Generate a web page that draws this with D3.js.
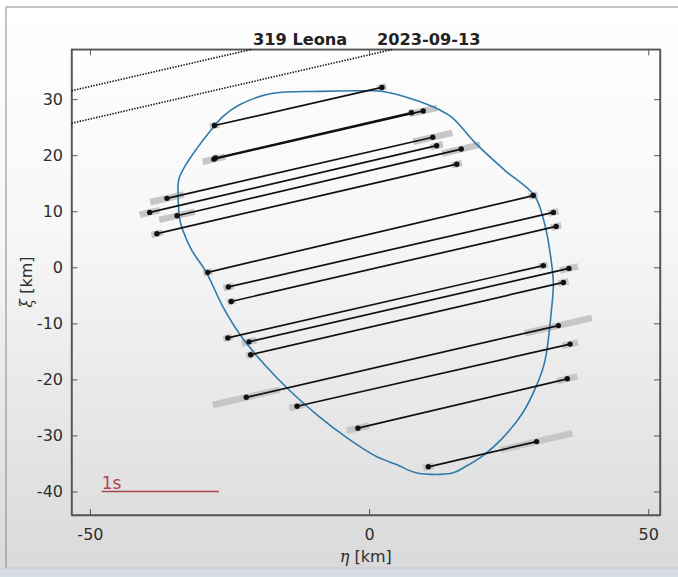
<!DOCTYPE html>
<html>
<head>
<meta charset="utf-8">
<script src="https://cdn.jsdelivr.net/npm/d3@7"></script>
<style>
  body { margin: 0; background: #fff; }
  svg { display: block; font-family: "DejaVu Sans", "Liberation Sans", Arial, sans-serif; }
</style>
</head>
<body>
<div id="occ-container"></div>
<script>
/**
 * DATA (km, fundamental plane)
 * */
const titleName = "319 Leona";
const titleDate = "2023-09-13";
const xTicks = [-50, 0, 50];
const yTicks = [-40, -30, -20, -10, 0, 10, 20, 30];

// positive chords: disappearance (1) -> reappearance (2)
const chordEta1 = [-27.7, -27.8, -27.5, -36.2, -39.3, -34.4, -38.0, -28.9, -25.2, -24.7, -25.3, -21.5, -21.2, -22.0, -12.9, -2.0, 10.6];
const chordXi1 = [25.3, 19.3, 19.5, 12.3, 9.8, 9.2, 6.0, -0.9, -3.5, -6.1, -12.6, -13.3, -15.6, -23.2, -24.8, -28.7, -35.6];
const chordEta2 = [2.3, 9.7, 7.6, 11.4, 12.1, 16.5, 15.7, 29.4, 33.0, 33.5, 31.2, 35.8, 34.8, 33.9, 36.0, 35.5, 30.0];
const chordXi2 = [32.1, 27.9, 27.6, 23.2, 21.7, 21.1, 18.4, 12.8, 9.8, 7.3, 0.3, -0.2, -2.7, -10.4, -13.7, -19.9, -31.1];
// timing uncertainty (along eta) at each end
const errStart = [0.8, 2.0, 0.5, 3.0, 1.8, 3.2, 1.0, 0.8, 0.9, 0.7, 0.8, 1.3, 0.8, 6.0, 1.4, 2.0, 0.9];
const errEnd = [0.8, 2.5, 0.5, 3.5, 1.1, 3.4, 0.9, 0.8, 0.9, 0.9, 0.8, 1.6, 0.9, 6.0, 1.4, 1.8, 6.4];

// negative chords (dotted)
const negEta1 = [-53.3, -53.3];
const negXi1 = [31.5, 25.7];
const negEta2 = [-21.0, 4.3];
const negXi2 = [38.9, 38.9];

// shape model outline
const contourEta = [-17.5, -8.9, -0.5, 2.2, 8.1, 12.6, 14.9, 19.0, 24.2, 29.6, 31.4, 32.6, 33.0, 32.6, 32.1, 31.4, 29.9, 27.5, 23.6, 20.4, 17.2, 14.9, 8.6, 4.9, 1.0, -4.0, -9.0, -14.0, -18.5, -22.9, -26.2, -29.2, -31.8, -33.4, -33.9, -34.2, -34.1, -33.0, -31.0, -28.3, -26.2, -23.2];
const contourXi = [31.0, 31.4, 31.5, 31.4, 29.9, 28.1, 26.7, 22.2, 17.4, 12.8, 7.9, 1.3, -3.0, -8.2, -12.9, -17.1, -21.3, -26.0, -30.8, -33.6, -35.6, -36.7, -36.7, -35.2, -33.6, -30.4, -26.6, -22.2, -17.6, -12.3, -7.0, -0.8, 3.1, 6.7, 8.5, 12.6, 15.6, 18.0, 21.0, 24.5, 26.9, 29.0];

// 1 second time scale
const scaleEta = [-47.9, -26.9];
const scaleXi = -40;
const scaleLabel = "1s";

const chords = chordEta1.map((d, i) => ({
  eta1: d,
  xi1: chordXi1[i],
  eta2: chordEta2[i],
  xi2: chordXi2[i],
  e1: errStart[i],
  e2: errEnd[i],
}));
const negChords = negEta1.map((d, i) => ({ eta1: d, xi1: negXi1[i], eta2: negEta2[i], xi2: negXi2[i] }));
const contour = contourEta.map((d, i) => [d, contourXi[i]]);

let width = 678,
  height = 577,
  margin = { top: 49.3, bottom: 62, left: 71.5, right: 18 };

// SCALES
const xScale = d3
  .scaleLinear()
  .domain([-53.3, 52.1])
  .range([margin.left, width - margin.right]);

const yScale = d3
  .scaleLinear()
  .domain([-44.2, 38.9])
  .range([height - margin.bottom, margin.top]);

const svg = d3
  .select("#occ-container")
  .append("svg")
  .attr("width", width)
  .attr("height", height);

// background: faded video-frame look
const grad = svg
  .append("defs")
  .append("linearGradient")
  .attr("id", "bg")
  .attr("x1", 0)
  .attr("y1", 0)
  .attr("x2", 0)
  .attr("y2", 1);
grad.append("stop").attr("offset", "0%").attr("stop-color", "#ffffff");
grad.append("stop").attr("offset", "40%").attr("stop-color", "#f7f7f7");
grad.append("stop").attr("offset", "100%").attr("stop-color", "#d9d9d9");

svg.append("rect").attr("width", width).attr("height", height).attr("fill", "url(#bg)");
svg.append("rect").attr("x", 0).attr("y", 568).attr("width", width).attr("height", 9).attr("fill", "#d6dde4");
svg
  .append("path")
  .attr("d", "M6,568V7H678")
  .attr("fill", "none")
  .attr("stroke", "#858585")
  .attr("stroke-width", 1);
svg.append("line").attr("x1", 0).attr("x2", width).attr("y1", 568).attr("y2", 568).attr("stroke", "#c4c9ce");

// AXES
const tickLen = 6;
const plainNum = (d) => String(d); // keep ascii hyphen like the original
svg
  .append("g")
  .attr("class", "axis x-axis")
  .attr("transform", `translate(0,${height - margin.bottom})`)
  .call(d3.axisBottom(xScale).tickValues(xTicks).tickFormat(plainNum).tickSizeInner(-tickLen).tickSizeOuter(0).tickPadding(13.6));
svg
  .append("g")
  .attr("class", "axis x-axis-top")
  .attr("transform", `translate(0,${margin.top})`)
  .call(d3.axisTop(xScale).tickValues(xTicks).tickSizeInner(-tickLen).tickSizeOuter(0).tickFormat(""));
svg
  .append("g")
  .attr("class", "axis y-axis")
  .attr("transform", `translate(${margin.left},0)`)
  .call(d3.axisLeft(yScale).tickValues(yTicks).tickFormat(plainNum).tickSizeInner(-tickLen).tickSizeOuter(0).tickPadding(8.5));
svg
  .append("g")
  .attr("class", "axis y-axis-right")
  .attr("transform", `translate(${width - margin.right},0)`)
  .call(d3.axisRight(yScale).tickValues(yTicks).tickSizeInner(-tickLen).tickSizeOuter(0).tickFormat(""));

svg.selectAll(".axis path").attr("stroke", "#555").attr("stroke-width", 1.4);
svg.selectAll(".axis line").attr("stroke", "#555").attr("stroke-width", 1);
svg.selectAll(".axis text").attr("font-size", 16).attr("fill", "#2e2e2e").attr("font-family", "DejaVu Sans");

// box edges (top/right)
svg
  .append("rect")
  .attr("x", margin.left)
  .attr("y", margin.top)
  .attr("width", width - margin.right - margin.left)
  .attr("height", height - margin.bottom - margin.top)
  .attr("fill", "none")
  .attr("stroke", "#555")
  .attr("stroke-width", 1.4);

// labels
const xl = svg
  .append("text")
  .attr("x", (margin.left + width - margin.right) / 2)
  .attr("y", 562)
  .attr("text-anchor", "middle")
  .attr("font-size", 16)
  .attr("fill", "#2e2e2e");
xl.append("tspan").attr("font-family", "DejaVu Serif").attr("font-style", "italic").text("η");
xl.append("tspan").text(" [km]");

const yl = svg
  .append("text")
  .attr("transform", `translate(32,${(margin.top + height - margin.bottom) / 2}) rotate(-90)`)
  .attr("text-anchor", "middle")
  .attr("font-size", 16)
  .attr("fill", "#2e2e2e");
yl.append("tspan").attr("font-family", "DejaVu Serif").attr("font-style", "italic").text("ξ");
yl.append("tspan").text(" [km]");

const tt = svg
  .append("text")
  .attr("y", 44.5)
  .attr("font-size", 16.2)
  .attr("font-weight", "bold")
  .attr("fill", "#222");
tt.append("tspan").attr("x", 253).text(titleName);
tt.append("tspan").attr("x", 377).text(titleDate);

// MARKS
const plot = svg.append("g");

// uncertainty bars
const slope = (d) => (d.xi2 - d.xi1) / (d.eta2 - d.eta1);
const errBars = [];
chords.forEach((d) => {
  errBars.push({ eta: d.eta1, xi: d.xi1, e: d.e1, s: slope(d) });
  errBars.push({ eta: d.eta2, xi: d.xi2, e: d.e2, s: slope(d) });
});
plot
  .selectAll(".err")
  .data(errBars)
  .join("line")
  .attr("class", "err")
  .attr("stroke", "#c6c6c6")
  .attr("stroke-width", 6.5)
  .attr("x1", (d) => xScale(d.eta - d.e))
  .attr("y1", (d) => yScale(d.xi - d.e * d.s))
  .attr("x2", (d) => xScale(d.eta + d.e))
  .attr("y2", (d) => yScale(d.xi + d.e * d.s));

// negative chords
plot
  .selectAll(".neg")
  .data(negChords)
  .join("line")
  .attr("class", "neg")
  .attr("stroke", "#111")
  .attr("stroke-width", 1.6)
  .style("stroke-dasharray", "1.4, 1.4")
  .attr("x1", (d) => xScale(d.eta1))
  .attr("y1", (d) => yScale(d.xi1))
  .attr("x2", (d) => xScale(d.eta2))
  .attr("y2", (d) => yScale(d.xi2));

// shape outline
plot
  .append("path")
  .datum(contour)
  .attr("fill", "none")
  .attr("stroke", "#2f7aab")
  .attr("stroke-width", 1.6)
  .attr(
    "d",
    d3
      .line()
      .x((d) => xScale(d[0]))
      .y((d) => yScale(d[1]))
      .curve(d3.curveCatmullRomClosed.alpha(0.5))
  );

// chords
plot
  .selectAll(".chord")
  .data(chords)
  .join("line")
  .attr("class", "chord")
  .attr("stroke", "#111")
  .attr("stroke-width", 1.7)
  .attr("x1", (d) => xScale(d.eta1))
  .attr("y1", (d) => yScale(d.xi1))
  .attr("x2", (d) => xScale(d.eta2))
  .attr("y2", (d) => yScale(d.xi2));

plot
  .selectAll(".dot")
  .data(errBars)
  .join("circle")
  .attr("class", "dot")
  .attr("fill", "#111")
  .attr("r", 2.7)
  .attr("cx", (d) => xScale(d.eta))
  .attr("cy", (d) => yScale(d.xi));

// time scale bar
plot
  .append("line")
  .attr("stroke", "#a8434f")
  .attr("stroke-width", 1.6)
  .attr("x1", xScale(scaleEta[0]))
  .attr("x2", xScale(scaleEta[1]))
  .attr("y1", yScale(scaleXi))
  .attr("y2", yScale(scaleXi));
plot
  .append("text")
  .attr("x", xScale(scaleEta[0]))
  .attr("y", yScale(scaleXi) - 2.5)
  .attr("font-size", 17)
  .attr("fill", "#b04552")
  .text(scaleLabel);
</script>
</body>
</html>
